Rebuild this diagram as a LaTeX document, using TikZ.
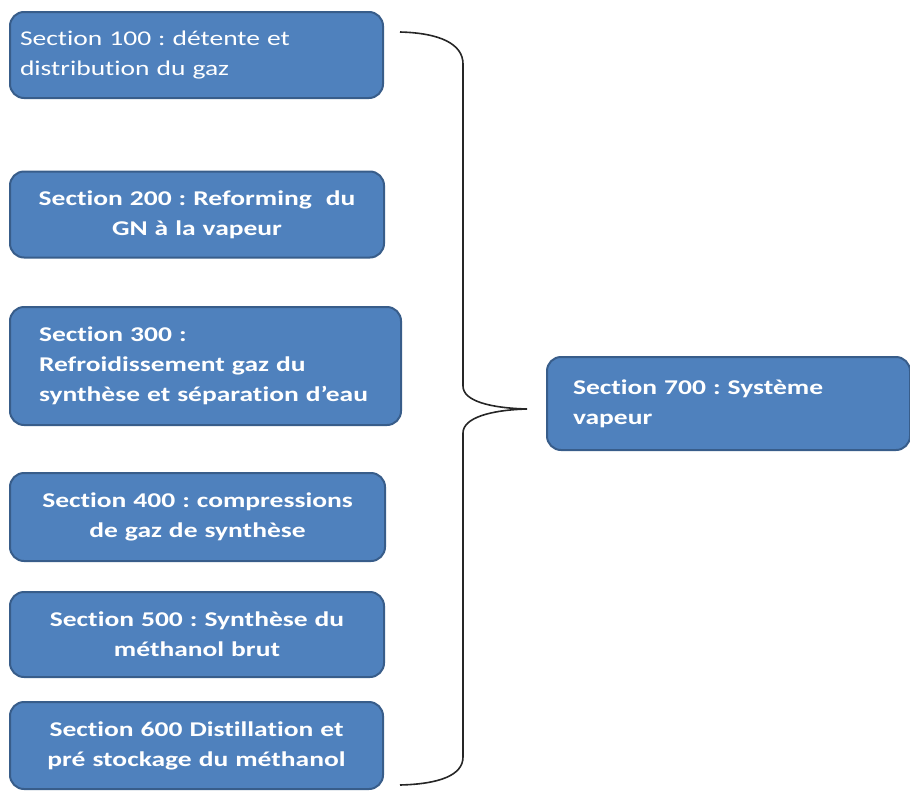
\documentclass[tikz,border=0pt]{standalone}
\usepackage{fontspec}
\setmainfont{Carlito}[FakeStretch=1.31, Ligatures=NoCommon]
\definecolor{boxfill}{HTML}{4F81BD}
\definecolor{boxline}{HTML}{385D8A}
\tikzset{
  box/.style={draw=boxline, fill=boxfill, line width=2pt, rounded corners=14pt,
    text=white, inner ysep=0pt, inner xsep=10pt,
    font=\fontsize{21}{30}\selectfont\bfseries},
  bracket/.style={draw=black!85, line width=1.6pt}
}
\frenchspacing
\begin{document}
\begin{tikzpicture}[x=1pt,y=-1pt]
\useasboundingbox (0,0) rectangle (910,790);
\node[box, minimum width=373pt, minimum height=86pt, text width=353pt, align=left,
  font=\fontsize{21}{30}\selectfont] (s100) at (196.5,55)
  {Section 100 : détente et\\distribution du gaz};
\node[box, minimum width=374pt, minimum height=86pt, text width=354pt, align=center] (s200) at (197,214.5)
  {Section 200 : Reforming\ \ du\\GN à la vapeur};
\node[box, minimum width=391pt, minimum height=118pt, inner xsep=29pt, text width=333pt, align=left] (s300) at (205.5,366)
  {Section 300 :\\Refroidissement gaz du\\synthèse et séparation d’eau};
\node[box, minimum width=375pt, minimum height=88pt, text width=355pt, align=center] (s400) at (197.5,517)
  {Section 400 : compressions\\de gaz de synthèse};
\node[box, minimum width=374pt, minimum height=85pt, text width=354pt, align=center] (s500) at (197,634.5)
  {Section 500 : Synthèse du\\méthanol brut};
\node[box, minimum width=373pt, minimum height=87pt, text width=353pt, align=center] (s600) at (196.5,745.5)
  {Section 600 Distillation et\\pré stockage du méthanol};
\node[box, minimum width=363pt, minimum height=93pt, inner xsep=26pt, text width=311pt, align=left] (s700) at (728.5,403.5)
  {Section 700 : Système\\vapeur};
\coordinate (btop) at (400,32);
\coordinate (btip) at (527,409);
\coordinate (bbot) at (400,785);
\draw[bracket] (btop) .. controls (440,33) and (463,44) .. (463,64)
  -- (463,386) .. controls (463,401) and (490,408) .. (btip)
  .. controls (490,410) and (463,418) .. (463,433)
  -- (463,757) .. controls (463,775) and (440,784) .. (bbot);
\end{tikzpicture}
\end{document}
